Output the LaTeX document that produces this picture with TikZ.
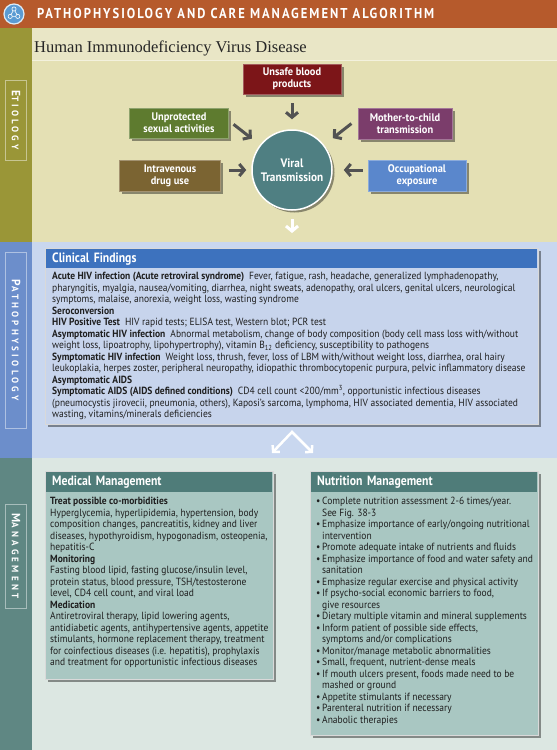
\documentclass[tikz,border=0pt]{standalone}
\usepackage{fontspec}
\setmainfont{PT Sans}
\newfontfamily\cf[FakeStretch=0.915]{PT Sans}
\newfontfamily\ef[FakeStretch=0.945]{PT Sans}
\newfontfamily\hcf[FakeStretch=0.87]{PT Sans}
\newfontfamily\hf[FakeStretch=0.88,LetterSpace=14]{PT Sans}
\newfontfamily\sidef[FakeStretch=0.95,LetterSpace=34]{PT Sans}
\newfontfamily\tf{Liberation Serif}
\usetikzlibrary{shadows,arrows.meta,calc}
\definecolor{hdrc}{HTML}{B65A2C}
\definecolor{iconc}{HTML}{5B9BD3}
\definecolor{etisidec}{HTML}{9A9637}
\definecolor{etibgc}{HTML}{E4E0B4}
\definecolor{titlebgc}{HTML}{E9E6C6}
\definecolor{patsidec}{HTML}{6C8ECB}
\definecolor{patbgc}{HTML}{C9D7EF}
\definecolor{cfheadc}{HTML}{3D72BE}
\definecolor{cfbodyc}{HTML}{C7D4EC}
\definecolor{mansidec}{HTML}{5F8783}
\definecolor{manbgc}{HTML}{DCE7E2}
\definecolor{mmheadc}{HTML}{4F7C79}
\definecolor{mmbodyc}{HTML}{A9C7C2}
\definecolor{arrc}{HTML}{525252}
\definecolor{ubc}{HTML}{7C1518}
\definecolor{uoc}{HTML}{5E7B2F}
\definecolor{mcc}{HTML}{7B3D6B}
\definecolor{ivc}{HTML}{7B6432}
\definecolor{oec}{HTML}{5A87CC}
\definecolor{vtc}{HTML}{4F7F82}
\newcommand{\nbul}{\makebox[6pt][l]{\textbullet}}
\newcommand{\nind}{\hspace*{6pt}}
\begin{document}
\begin{tikzpicture}[x=1pt,y=-1pt,
  shd/.style={drop shadow={shadow xshift=2.5pt,shadow yshift=-2.5pt,opacity=0.4,fill=black}},
  ebox/.style={rectangle, fill=#1, draw=white!30!#1, line width=0.8pt, text=white, align=center, font=\ef\bfseries\fontsize{11}{12}\selectfont, inner sep=1pt, shd},
  garr/.style={draw=arrc, line width=3pt, -{Straight Barb[length=5pt,width=12pt]}},
  warr/.style={draw=white, line width=3pt, -{Straight Barb[length=5pt,width=12pt]}},
  sidelbl/.style={draw=white!45!#1, line width=0.8pt, text=white, rotate=-90, minimum height=21pt, inner sep=0pt, font=\sidef\bfseries},
  boxbody/.style={rectangle, anchor=north west, fill=#1, draw=white!85!black, line width=1pt, shd},
  boxhead/.style={rectangle, anchor=north west, fill=#1, text=white, font=\hcf\bfseries\fontsize{13.5}{15}\selectfont, inner xsep=6pt, inner ysep=0pt, align=left},
  btext/.style={anchor=north west, inner sep=0pt, align=left, text=black!88, font=\cf\fontsize{10.4}{11.5}\selectfont},
]
\useasboundingbox (0,0) rectangle (557,750);
% bands
\fill[hdrc] (0,0) rectangle (557,27.5);
\fill[etisidec] (0,27.5) rectangle (32,242);
\fill[etibgc] (32,27.5) rectangle (557,242);
\fill[titlebgc] (32,27.5) rectangle (557,60);
\draw[white!55!etibgc, line width=1pt] (32,60) -- (557,60);
\fill[patsidec] (0,242) rectangle (32,458);
\fill[patbgc] (32,242) rectangle (557,458);
\fill[mansidec] (0,458) rectangle (32,750);
\fill[manbgc] (32,458) rectangle (557,750);
% icon
\fill[iconc] (14,14) circle (10);
\draw[white!80!iconc, line width=1.2pt] (14,14) circle (10);
\draw[white, line width=0.6pt] (14,9) -- (10.2,16.4) -- (17.8,16.4) -- cycle;
\draw[white, line width=0.6pt, fill=iconc] (14,9) circle (2.1) (10.2,16.4) circle (2.1) (17.8,16.4) circle (2.1);
% header text
\node[anchor=base west, inner sep=0pt, text=white, font=\hf\bfseries\fontsize{14.3}{15}\selectfont] (htitle) at (37,18.5) {PATHOPHYSIOLOGY AND CARE MANAGEMENT ALGORITHM};
\node[anchor=base west, inner sep=0pt, text=black!85, font=\tf\fontsize{16.5}{17}\selectfont] (title) at (34,52.5) {Human Immunodeficiency Virus Disease};
% side labels
\node[sidelbl=etisidec, minimum width=80pt] (leti) at (16,120) {{\fontsize{12}{12}\selectfont E}{\fontsize{9.5}{9.5}\selectfont TIOLOGY}};
\node[sidelbl=patsidec, minimum width=176pt] (lpat) at (16,340) {{\fontsize{12}{12}\selectfont P}{\fontsize{9.5}{9.5}\selectfont ATHOPHYSIOLOGY}};
\node[sidelbl=mansidec, minimum width=104pt] (lman) at (16,556) {{\fontsize{12}{12}\selectfont M}{\fontsize{9.5}{9.5}\selectfont ANAGEMENT}};
% etiology
\node[circle, minimum size=80pt, fill=vtc, draw=white, line width=1.5pt, text=white, align=center, font=\cf\bfseries\fontsize{12.3}{13.5}\selectfont, inner sep=0pt, shd] (vt) at (292,170) {Viral\\Transmission};
\node[ebox=ubc, minimum width=98pt, minimum height=30pt] (ub) at (292,79) {Unsafe blood\\products};
\node[ebox=uoc, minimum width=99pt, minimum height=30pt] (uo) at (179,123) {Unprotected\\sexual activities};
\node[ebox=mcc, minimum width=94pt, minimum height=31pt] (mc) at (405,124) {Mother-to-child\\transmission};
\node[ebox=ivc, minimum width=101pt, minimum height=31pt] (iv) at (170,176) {Intravenous\\drug use};
\node[ebox=oec, minimum width=98pt, minimum height=31pt] (oe) at (417,176) {Occupational\\exposure};
\draw[garr, shorten <=9pt, shorten >=10pt] (ub.south) -- (vt.north);
\draw[garr] ($(vt.center)!1.82!(vt.142)$) -- ($(vt.center)!1.25!(vt.142)$);
\draw[garr] ($(vt.center)!1.85!(vt.38)$) -- ($(vt.center)!1.27!(vt.38)$);
\draw[garr, shorten <=8pt, shorten >=5pt] (iv.east |- vt.center) -- (vt.west);
\draw[garr, shorten <=5pt, shorten >=11pt] (oe.west |- vt.center) -- (vt.east);
% clinical findings
\node[boxbody=cfbodyc, minimum width=493pt, minimum height=176pt] (cfb) at (45,248) {};
\draw[warr, shorten <=8pt, shorten >=15pt] (vt.south) -- (cfb.north);
\node[boxhead=cfheadc, text width=479pt, minimum height=19pt] (cfh) at ([shift={(1,1)}]cfb.north west) {Clinical Findings};
\node[btext] (cft) at (52,272) {%
\textbf{Acute HIV infection (Acute retroviral syndrome)}\ \ Fever, fatigue, rash, headache, generalized lymphadenopathy,\\
pharyngitis, myalgia, nausea/vomiting, diarrhea, night sweats, adenopathy, oral ulcers, genital ulcers, neurological\\
symptoms, malaise, anorexia, weight loss, wasting syndrome\\
\textbf{Seroconversion}\\
\textbf{HIV Positive Test}\ \ HIV rapid tests; ELISA test, Western blot; PCR test\\
\textbf{Asymptomatic HIV infection}\ \ Abnormal metabolism, change of body composition (body cell mass loss with/without\\
weight loss, lipoatrophy, lipohypertrophy), vitamin B\textsubscript{12} deficiency, susceptibility to pathogens\\
\textbf{Symptomatic HIV infection}\ \ Weight loss, thrush, fever, loss of LBM with/without weight loss, diarrhea, oral hairy\\
leukoplakia, herpes zoster, peripheral neuropathy, idiopathic thrombocytopenic purpura, pelvic inflammatory disease\\
\textbf{Asymptomatic AIDS}\\
\textbf{Symptomatic AIDS (AIDS defined conditions)}\ \ CD4 cell count <200/mm\textsuperscript{3}, opportunistic infectious diseases\\
(pneumocystis jirovecii, pneumonia, others), Kaposi’s sarcoma, lymphoma, HIV associated dementia, HIV associated\\
wasting, vitamins/minerals deficiencies};
% split arrows
\coordinate (apex) at (292,432);
\coordinate (spl) at (272,453);
\coordinate (spr) at (313,453);
\draw[white, line width=2.5pt, line join=miter, {Straight Barb[length=4.5pt,width=10pt]}-{Straight Barb[length=4.5pt,width=10pt]}] (spl) -- (apex) -- (spr);
% medical management
\node[boxbody=mmbodyc, minimum width=228pt, minimum height=208pt] (mmb) at (45,471) {};
\node[boxhead=mmheadc, text width=214pt, minimum height=20pt] (mmh) at ([shift={(1,1)}]mmb.north west) {Medical Management};
\node[btext] (mmt) at (50,497) {%
\textbf{Treat possible co-morbidities}\\
Hyperglycemia, hyperlipidemia, hypertension, body\\
composition changes, pancreatitis, kidney and liver\\
diseases, hypothyroidism, hypogonadism, osteopenia,\\
hepatitis-C\\
\textbf{Monitoring}\\
Fasting blood lipid, fasting glucose/insulin level,\\
protein status, blood pressure, TSH/testosterone\\
level, CD4 cell count, and viral load\\
\textbf{Medication}\\
Antiretroviral therapy, lipid lowering agents,\\
antidiabetic agents, antihypertensive agents, appetite\\
stimulants, hormone replacement therapy, treatment\\
for coinfectious diseases (i.e. hepatitis), prophylaxis\\
and treatment for opportunistic infectious diseases};
% nutrition management
\node[boxbody=mmbodyc, minimum width=228pt, minimum height=264pt] (nmb) at (310,471) {};
\node[boxhead=mmheadc, text width=214pt, minimum height=20pt] (nmh) at ([shift={(1,1)}]nmb.north west) {Nutrition Management};
\node[btext] (nmt) at (316,497) {%
\nbul Complete nutrition assessment 2-6 times/year.\\
\nind See Fig. 38-3\\
\nbul Emphasize importance of early/ongoing nutritional\\
\nind intervention\\
\nbul Promote adequate intake of nutrients and fluids\\
\nbul Emphasize importance of food and water safety and\\
\nind sanitation\\
\nbul Emphasize regular exercise and physical activity\\
\nbul If psycho-social economic barriers to food,\\
\nind give resources\\
\nbul Dietary multiple vitamin and mineral supplements\\
\nbul Inform patient of possible side effects,\\
\nind symptoms and/or complications\\
\nbul Monitor/manage metabolic abnormalities\\
\nbul Small, frequent, nutrient-dense meals\\
\nbul If mouth ulcers present, foods made need to be\\
\nind mashed or ground\\
\nbul Appetite stimulants if necessary\\
\nbul Parenteral nutrition if necessary\\
\nbul Anabolic therapies};
\end{tikzpicture}
\end{document}
